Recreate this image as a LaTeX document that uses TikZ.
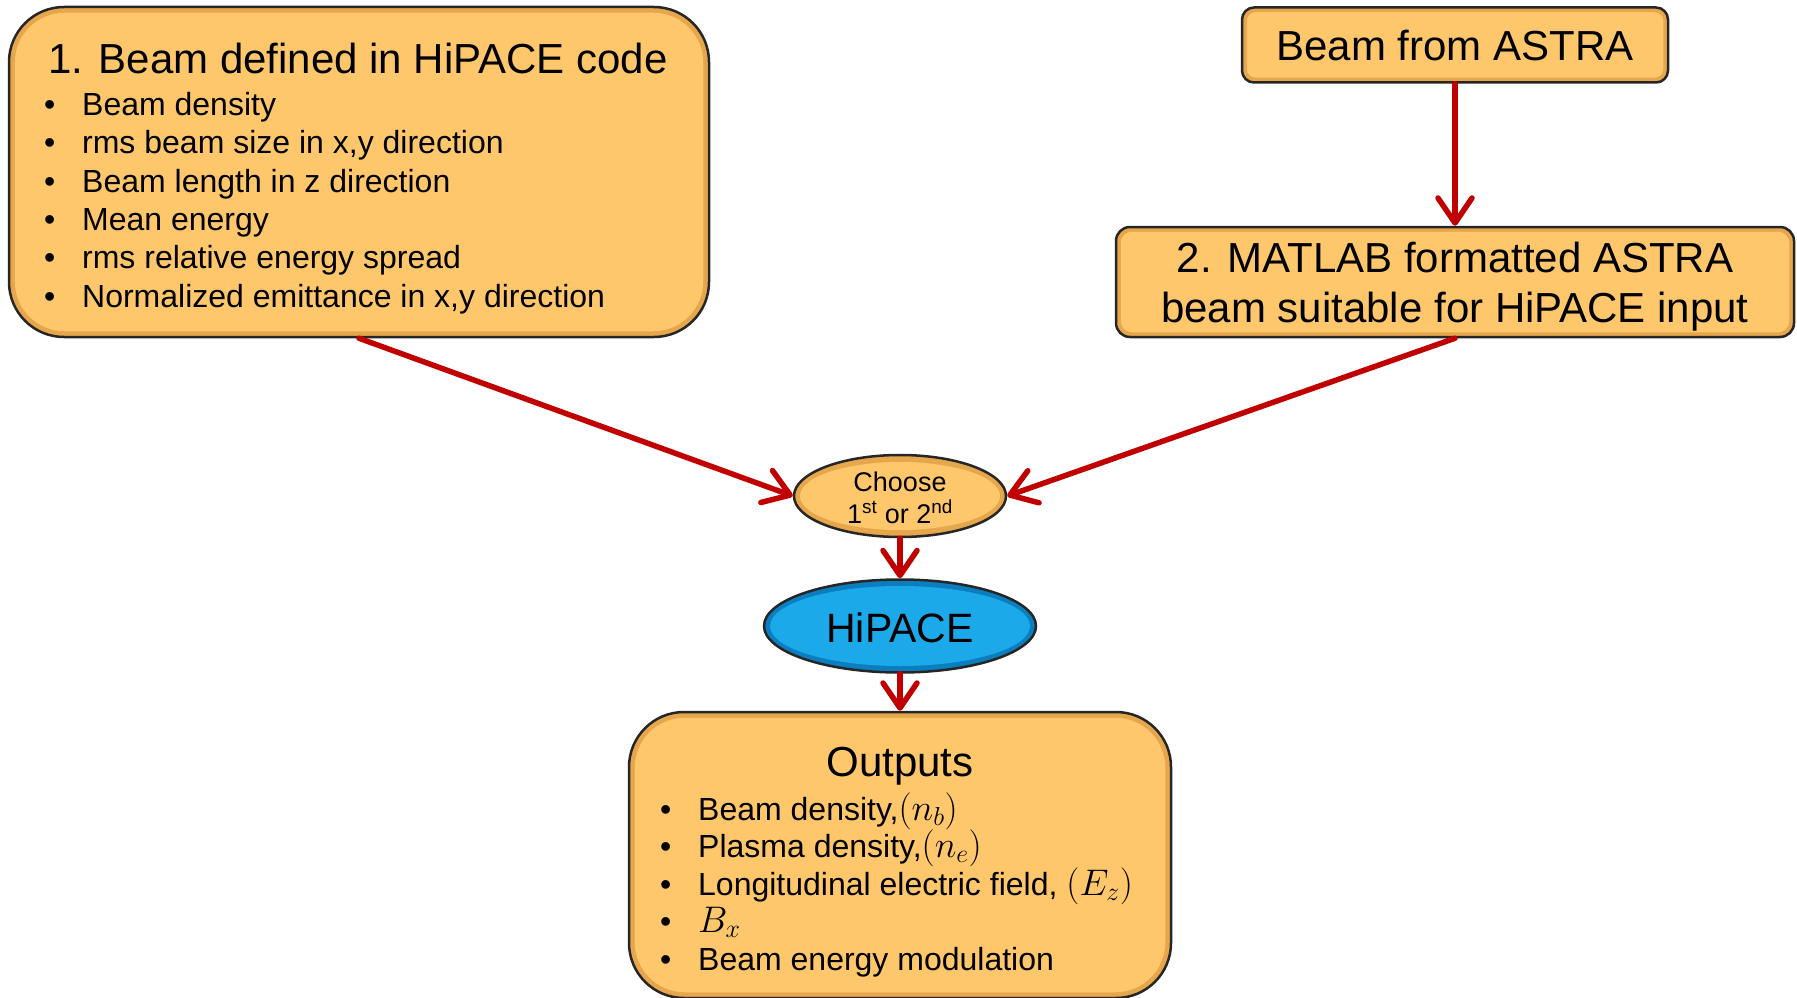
\RequirePackage{fix-cm}
\documentclass[tikz,border=0pt]{standalone}
\usepackage{fontspec}
\setmainfont{Liberation Sans}
\usetikzlibrary{arrows.meta,shapes.geometric,calc}
\definecolor{boxfill}{HTML}{FFC76C}
\definecolor{boxrim}{HTML}{E6A64C}
\definecolor{bluefill}{HTML}{1CA9EA}
\definecolor{bluerim}{HTML}{0A7EBE}
\definecolor{arrred}{HTML}{C00000}
\newcommand{\bm}[1]{{\fontsize{37}{38}\selectfont$#1$}}
\begin{document}
\begin{tikzpicture}[x=1pt,y=-1pt,
  box/.style={draw=black!85, line width=2.5pt, fill=boxrim, rounded corners=#1, inner sep=0pt},
  ell/.style={ellipse, draw=black!85, line width=2.5pt, inner sep=0pt},
  big/.style={font=\fontsize{42}{50}\selectfont, inner sep=0pt},
  mid/.style={font=\fontsize{32}{38}\selectfont, inner sep=0pt, anchor=base west},
  small/.style={font=\fontsize{27}{32}\selectfont, inner sep=0pt, anchor=base},
  arr/.style={draw=arrred, line width=5.5pt, line cap=round, -{Straight Barb[length=25pt,width=34pt,round]}}
]
\useasboundingbox (0,0) rectangle (1797,998);

% ---- shapes ----
\node[box=55pt, minimum width=700pt, minimum height=330pt] (b1) at (359,172) {};
\fill[boxfill, rounded corners=50pt] ($(b1.north west)+(7,7)$) rectangle ($(b1.south east)+(-7,-7)$);

\node[box=12pt, minimum width=426pt, minimum height=75pt] (astra) at (1455,45) {};
\fill[boxfill, rounded corners=9pt] ($(astra.north west)+(6,6)$) rectangle ($(astra.south east)+(-6,-6)$);

\node[box=14pt, minimum width=678pt, minimum height=110pt] (b2) at (1455,282) {};
\fill[boxfill, rounded corners=11pt] ($(b2.north west)+(6,6)$) rectangle ($(b2.south east)+(-6,-6)$);

\node[ell, fill=boxrim, minimum width=212pt, minimum height=82pt] (ch) at (900,496) {};
\fill[boxfill] (ch.center) ellipse [x radius=100, y radius=34];

\node[ell, fill=bluerim, minimum width=272pt, minimum height=93pt] (hp) at (900,626) {};
\fill[bluefill] (hp.center) ellipse [x radius=130, y radius=40];

\node[box=55pt, minimum width=542pt, minimum height=286pt] (out) at (900,855) {};
\fill[boxfill, rounded corners=50pt] ($(out.north west)+(7,7)$) rectangle ($(out.south east)+(-7,-7)$);

% ---- texts ----
\node[big, anchor=base west] (b1t) at (48,74) {1. Beam defined in HiPACE code};
\node[mid] (b1a) at (44,115) {\makebox[38pt][l]{•}Beam density};
\node[mid] (b1b) at (44,153) {\makebox[38pt][l]{•}rms beam size in x,y direction};
\node[mid] (b1c) at (44,192) {\makebox[38pt][l]{•}Beam length in z direction};
\node[mid] (b1d) at (44,230) {\makebox[38pt][l]{•}Mean energy};
\node[mid] (b1e) at (44,268) {\makebox[38pt][l]{•}rms relative energy spread};
\node[mid] (b1f) at (44,307) {\makebox[38pt][l]{•}Normalized emittance in x,y direction};

\node[big, anchor=base] (astrat) at (1455,60) {Beam from ASTRA};
\node[big, anchor=base] (b2t1) at (1455,272) {2. MATLAB formatted ASTRA};
\node[big, anchor=base] (b2t2) at (1455,322) {beam suitable for HiPACE input};

\node[small] (cht1) at (900,491) {Choose};
\node[small] (cht2) at (900,523) {1\textsuperscript{st} or 2\textsuperscript{nd}};

\node[font=\fontsize{41}{48}\selectfont, inner sep=0pt, anchor=base] (hpt) at (900,642) {HiPACE};

\node[big, anchor=base] (outt) at (900,776) {Outputs};
\node[mid] (o1) at (660,820) {\makebox[38pt][l]{•}Beam density,\bm{(n_b)}};
\node[mid] (o2) at (660,857) {\makebox[38pt][l]{•}Plasma density,\bm{(n_e)}};
\node[mid] (o3) at (660,895) {\makebox[38pt][l]{•}Longitudinal electric field, \bm{(E_z)}};
\node[mid] (o4) at (660,932) {\makebox[38pt][l]{•}\bm{B_x}};
\node[mid] (o5) at (660,970) {\makebox[38pt][l]{•}Beam energy modulation};

% ---- connectors ----
\draw[arr] (astra.south) -- (b2.north);
\draw[arr] (b1.south) -- (ch.west);
\draw[arr] (b2.south) -- (ch.east);
\draw[arr] (ch.south) -- (hp.north);
\draw[arr] (hp.south) -- (out.north);
\end{tikzpicture}
\end{document}
